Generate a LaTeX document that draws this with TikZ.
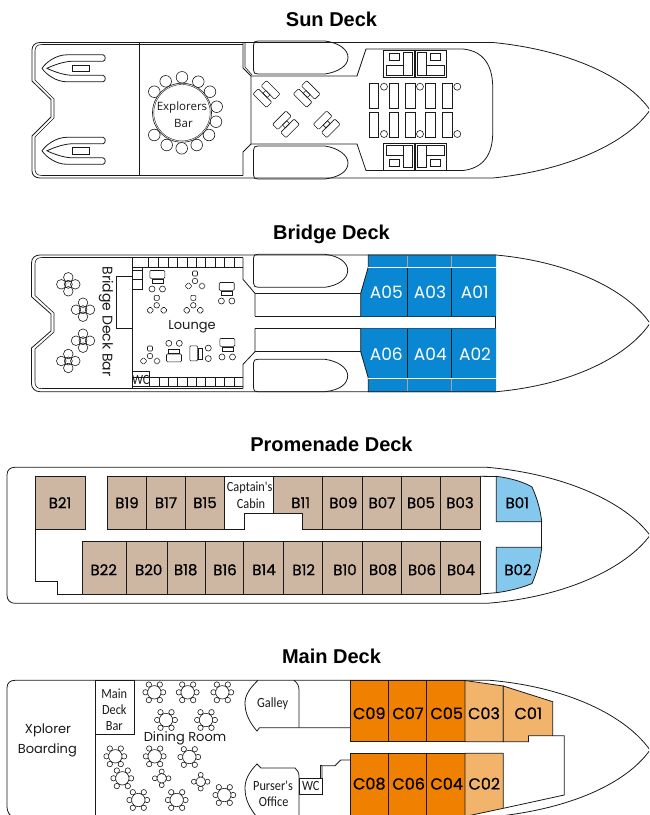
\documentclass[tikz,border=0pt]{standalone}
\usepackage{graphicx}
\usepackage{fontspec}
\setmainfont{Liberation Sans}
\newfontfamily\cabfont[FakeBold=0.7]{Poppins}
\newfontfamily\lblfont{Poppins}
\newfontfamily\narfont{Carlito}
\newcommand{\nar}[1]{\scalebox{0.88}[1]{#1}}
\definecolor{suite}{HTML}{0A87D2}
\definecolor{tan}{HTML}{CDB7A3}
\definecolor{sky}{HTML}{85C8EE}
\definecolor{orng}{HTML}{F08000}
\definecolor{peach}{HTML}{F2B36B}
\definecolor{ink}{HTML}{1A1A1A}
\tikzset{
  title/.style={font=\fontsize{20}{24}\selectfont\bfseries,text=black,inner sep=0pt,anchor=base},
  plan/.style={draw=ink,line width=0.8pt,line join=miter},
  thin plan/.style={draw=ink,line width=0.6pt},
  cabin/.style={draw=ink,line width=0.8pt},
  cablabel/.style={font=\cabfont\fontsize{16}{18}\selectfont,text=black,inner sep=0pt},
  tanlabel/.style={font=\cabfont\fontsize{15}{18}\selectfont,text=black,inner sep=0pt},
  whitelabel/.style={font=\lblfont\fontsize{17}{20}\selectfont,text=white,inner sep=0pt},
  room/.style={font=\lblfont\fontsize{13}{15}\selectfont,text=ink,inner sep=0pt},
  narrow/.style={font=\narfont\fontsize{14}{16}\selectfont,text=ink,inner sep=0pt},
  sunbed/.pic={
    \draw[thin plan,fill=white,rounded corners=1pt] (-9.5,-9.5) rectangle (9.5,-2);
    \draw[thin plan,fill=white,rounded corners=1pt] (-9.5,2) rectangle (9.5,9.5);
    \draw[thin plan] (-3,-2) rectangle (3,2);
  },
  quad/.pic={
    \foreach \px/\py in {7/0,-7/0,0/7,0/-7}{\draw[thin plan] (\px,\py) circle[radius=4.8pt];}
    \draw[thin plan] (0,0) circle[radius=4pt];
  },
  trio/.pic={
    \draw[thin plan] (0,0) circle[radius=2.8pt];
    \draw[thin plan,rounded corners=1pt] (-2.5,-10) rectangle (2.5,-5);
    \draw[thin plan,rounded corners=1pt,rotate around={45:(-6.5,5)}] (-9,2.5) rectangle (-4,7.5);
    \draw[thin plan,rounded corners=1pt,rotate around={45:(7,5)}] (4.5,2.5) rectangle (9.5,7.5);
  },
  sofa/.pic={
    \draw[thin plan,rounded corners=1pt] (-7.5,-9.5) rectangle (7.5,-1.7);
    \draw[thin plan] (-5.5,-0.7) rectangle (5.5,3.3);
    \draw[thin plan] (-5.3,9) circle[radius=3pt];
    \draw[thin plan] (5.2,9) circle[radius=3pt];
  },
  dinebig/.pic={
    \foreach \px/\py in {5.5/-7.8,-5.5/-7.8,5.5/7.8,-5.5/7.8,8.8/0,-8.8/0}{\draw[thin plan,fill=white] (\px,\py) circle[radius=2.7pt];}
    \draw[thin plan,fill=white] (0,0) circle[radius=6.7pt];
  },
  dinesmall/.pic={
    \foreach \px/\py in {6.8/0,-6.8/0,0/6.8,0/-6.8}{\draw[thin plan,fill=white] (\px,\py) circle[radius=2.5pt];}
    \draw[thin plan,fill=white] (0,0) circle[radius=4.8pt];
  },
  tender/.pic={
    \draw[plan] (32,-13.5) -- (-4,-13.5) .. controls (-15,-13.5) and (-25,-6) .. (-29,0)
      .. controls (-25,6) and (-15,13.5) .. (-4,13.5) -- (32,13.5)
      .. controls (35,13) and (35,7.5) .. (32,7) -- (0,7)
      .. controls (-8,6.5) and (-18,3) .. (-24,0) .. controls (-18,-3) and (-8,-6.5) .. (0,-7)
      -- (32,-7) .. controls (35,-7.5) and (35,-13) .. (32,-13.5) -- cycle;
    \draw[thin plan] (1.5,-3.3) rectangle (18,3.3);
  },
}
\begin{document}
\begin{tikzpicture}[x=1pt,y=-1pt]
\useasboundingbox (0,0) rectangle (649,815);
\clip (0,0) rectangle (649,815);

% ---------- titles
\node[title] (tsun) at (331.5,26) {Sun Deck};
\node[title] (tbridge) at (331.5,239) {Bridge Deck};
\node[title] (tprom) at (331.5,451) {Promenade Deck};
\node[title] (tmain) at (331.5,663) {Main Deck};

% ---------- SUN DECK
\draw[plan] (40,42.5) -- (493,42.5) .. controls (570,50) and (628,78) .. (650,110)
  .. controls (628,142) and (570,170) .. (493,178) -- (40,178)
  .. controls (35,178) and (32,175) .. (32,171) -- (32,136) -- (51,117) -- (51,99.5) -- (32,81) -- (32,50)
  .. controls (32,45.5) and (35,42.5) .. (40,42.5) -- cycle;
\draw[thin plan] (42,44.5) -- (243,44.5) (42,175.5) -- (243,175.5);
\draw[thin plan] (42,44.5) .. controls (37,44.5) and (35,47) .. (35,51) -- (35,80) -- (54,99) -- (54,118) -- (35,137) -- (35,169) .. controls (35,173) and (37,175.5) .. (42,175.5);
\draw[plan] (139,43) -- (139,175.5);
\draw[plan] (243,43) -- (243,68) -- (251,76) -- (251,144) -- (243,152) -- (243,175.5);
\draw[thin plan] (245,43) -- (245,67) -- (252,75);
\draw[plan] (253.5,45) .. controls (253.5,42) and (255,41) .. (258,41) -- (325,41) .. controls (340,43) and (348,50) .. (348,57.5) .. controls (348,66) and (338,72) .. (325,74) -- (258,74) .. controls (255,74) and (253.5,73) .. (253.5,70) -- cycle;
\draw[plan] (253.5,150) .. controls (253.5,147) and (255,146) .. (258,146) -- (325,146) .. controls (338,148) and (348,155) .. (348,163) .. controls (348,171) and (340,177) .. (325,179) -- (258,179) .. controls (255,179) and (253.5,178) .. (253.5,175) -- cycle;
\draw[plan] (251,76) -- (357,76) -- (366,49) -- (463,49) .. controls (484,51) and (492,66) .. (492.7,85) -- (492.7,135) .. controls (492,154) and (484,168) .. (463,170.5) -- (366,170.5) -- (357,144) -- (251,144);
\foreach \xa/\ya in {71/68.3,71/150.8}{\pic at (\xa,\ya) {tender};}
% explorers bar
\foreach \cx/\cy in {154.3/91.7,165.7/81.3,182/77.3,198.3/81.7,210/91.7,216.7/106.7,216/121.7,209/135,196.7/145,181.7/148.3,166.7/145,154.3/135}{
  \draw[thin plan,fill=white] (\cx,\cy) circle[radius=5.8pt];}
\draw[thin plan,fill=white] (182,112.7) circle[radius=29.5pt];
\draw[draw=ink,line width=0.4pt] (182,112.7) circle[radius=28.2pt];
\node[font=\fontspec{Open Sans}\fontsize{11.5}{14}\selectfont,text=ink,inner sep=0pt] (explorers) at (182,107.5) {Explorers};
\node[font=\fontspec{Open Sans}\fontsize{11.5}{14}\selectfont,text=ink,inner sep=0pt] (explbar) at (183.5,123.5) {Bar};
\pic[rotate=-45] at (266.5,94) {sunbed};
\pic[rotate=-45] at (306.7,94) {sunbed};
\pic[rotate=45] at (286,124.3) {sunbed};
\pic[rotate=45] at (326.7,124.3) {sunbed};
% bow seating
\foreach \bx in {369.3,389.3,405.7,425.7,442.7}{
  \draw[plan] (\bx,83.3) rectangle ++(9.3,25);
  \draw[plan] (\bx,112.3) rectangle ++(9.3,25);}
\foreach \cx in {384,420,457.3}{
  \draw[thin plan] (\cx,86.7) circle[radius=3.5pt];
  \draw[thin plan] (\cx,134) circle[radius=3.5pt];}
\draw[plan] (383.3,50) rectangle (414.3,77) (415.7,50) rectangle (446.7,77);
\draw[plan] (383.3,143.3) rectangle (414.3,170.5) (415.7,143.3) rectangle (446.7,170.5);
\draw[thin plan] (389.3,53.3) rectangle (399.3,60.7) (403.3,52.7) rectangle (412.7,75) (386,65) rectangle (403.3,75);
\draw[thin plan] (430,53.3) rectangle (440,60.7) (417.7,52.7) rectangle (426,75) (426,65) rectangle (444,75);
\draw[thin plan] (389.3,159.3) rectangle (399.3,166.7) (403.3,145.5) rectangle (412.7,167.5) (386,145.7) rectangle (403.3,155.7);
\draw[thin plan] (430,159.3) rectangle (440,166.7) (417.7,145.5) rectangle (426,167.5) (426,145.7) rectangle (444,155.7);

% ---------- BRIDGE DECK
\draw[plan] (40,255) -- (496,255) .. controls (572,262) and (628,291) .. (650,323.3)
  .. controls (628,356) and (572,385) .. (496,391.7) -- (40,391.7)
  .. controls (35,391.7) and (31.5,388) .. (31.5,384) -- (31.5,348) -- (51,331) -- (51,314) -- (31.5,296.7) -- (31.5,263)
  .. controls (31.5,258) and (35,255) .. (40,255) -- cycle;
\draw[thin plan] (42,257.5) -- (243,257.5) (42,388.7) -- (243,388.7);
\draw[thin plan] (42,257.5) .. controls (37,257.5) and (35,260) .. (35,264) -- (35,295.5) -- (54,313) -- (54,332) -- (35,349) -- (35,382) .. controls (35,386) and (37,388.7) .. (42,388.7);
\draw[plan] (132.7,257.5) -- (132.7,388.7);
\draw[plan] (243,257.5) -- (243,279.3) -- (255,293.3) -- (255,316) (255,328.3) -- (255,351.7) -- (243,364.3) -- (243,388.7);
\draw[plan] (133,267) -- (243,267) (133,377.7) -- (243,377.7) (133,386.7) -- (243,386.7);
\foreach \dx in {148.3,158.3,168.3,177.7,187,196.3,205.7,215,224.3,234}{
  \draw[thin plan] (\dx,257.5) -- (\dx,267);}
\foreach \dx in {149.3,159,168.3,177.7,187,196.3,205.7,215,224.3,234}{
  \draw[thin plan] (\dx,377.7) -- (\dx,386.7);}
\draw[thin plan] (142.7,267) -- (142.7,289.3) -- (133,289.3) (133,270) -- (142.7,270) (133,279.3) -- (142.7,279.3);
\draw[plan] (133,276.7) -- (116.3,276.7) -- (116.3,328.3) -- (133,328.3);
\draw[plan] (132.7,371.7) -- (149.3,371.7) -- (149.3,386.7);
\node[narrow] (wcb) at (140.7,380) {\nar{WC}};
\draw[plan] (253.5,258) .. controls (253.5,255) and (255,254.3) .. (258,254.3) -- (325,254.3) .. controls (340,256) and (347.7,263) .. (347.7,270.5) .. controls (347.7,279) and (338,285.5) .. (325,287.3) -- (258,287.3) .. controls (255,287.3) and (253.5,286) .. (253.5,283) -- cycle;
\draw[plan] (253.5,363) .. controls (253.5,360) and (255,359.3) .. (258,359.3) -- (325,359.3) .. controls (338,361) and (347.7,368) .. (347.7,375.5) .. controls (347.7,384) and (340,390) .. (325,391.7) -- (258,391.7) .. controls (255,391.7) and (253.5,391) .. (253.5,388) -- cycle;
\draw[plan] (255,293.3) -- (360.7,293.3) (255,316.3) -- (495.7,316.3) -- (495.7,328.3) -- (255,328.3) (255,351.7) -- (360.7,351.7);
% suites
\fill[suite] (368.3,255) -- (496,255) -- (496,316.3) -- (360.7,316.3) -- (360.7,293.3) -- (368.3,267) -- cycle;
\fill[suite] (360.7,328.3) -- (496,328.3) -- (496,391.7) -- (368.3,391.7) -- (368.3,378) -- (360.7,351.7) -- cycle;
\draw[plan] (360.7,316.3) -- (360.7,293.3) -- (368.3,267) -- (368.3,255) -- (496,255) (360.7,328.3) -- (360.7,351.7) -- (368.3,378) -- (368.3,391.7) -- (496,391.7);
\draw[white,line width=0.8pt] (368.3,267.3) -- (497,267.3) (368.3,378.3) -- (497,378.3);
\foreach \dx in {407.7,451.7}{
  \draw[gray!70,line width=0.8pt] (\dx,255.5) -- (\dx,267) (\dx,378.6) -- (\dx,391.3);
  \draw[ink,line width=0.8pt] (\dx,267.6) -- (\dx,316) (\dx,328.5) -- (\dx,378);}
\node[whitelabel] (a05) at (386.3,292.7) {A05};
\node[whitelabel] (a03) at (430,292.7) {A03};
\node[whitelabel] (a01) at (474.7,292.7) {A01};
\node[whitelabel] (a06) at (386.3,354.7) {A06};
\node[whitelabel] (a04) at (430.3,354.7) {A04};
\node[whitelabel] (a02) at (475,354.7) {A02};
\node[room,rotate=-90,font=\lblfont\fontsize{14}{16}\selectfont] (bdb) at (106,321.5) {Bridge Deck Bar};
\node[room] (lounge) at (192,326.5) {Lounge};
\foreach \qx/\qy in {68.3/284.3,83/309.7,83/340.7,68.3/361}{\pic at (\qx,\qy) {quad};}
\foreach \qx/\qy in {195/281,156.7/305.3,193.3/305.3,150/356}{\pic at (\qx,\qy) {trio};}
\pic at (157.3,280) {sofa};
\pic at (226.7,292) {sofa};
\pic at (227.3,348) {sofa};
\pic[rotate=180] at (174,352.3) {sofa};
\pic[rotate=90] at (199.3,353.3) {sofa};

% ---------- PROMENADE DECK
\draw[plan] (15,467.3) -- (487,467.3) .. controls (566,474) and (626,503) .. (650,535.3)
  .. controls (626,568) and (566,597) .. (487,603.3) -- (15,603.3)
  .. controls (10,603.3) and (7,600) .. (7,595) -- (7,475) .. controls (7,470) and (10,467.3) .. (15,467.3) -- cycle;
\path[fill=tan,cabin] (35,476.3) rectangle (85.3,529.3);
\foreach \xa/\xb in {107.7/146.3,146.3/185.3,185.3/224.7,322.7/362,362/401,401/440,440/480}{
  \path[fill=tan,cabin] (\xa,476.3) rectangle (\xb,529.3);}
\path[fill=tan,cabin] (273.3,476.3) -- (322.7,476.3) -- (322.7,529.3) -- (302.7,529.3) -- (302.7,513.3) -- (273.3,513.3) -- cycle;
\draw[plan] (224.7,476.3) -- (273.3,476.3) (224.7,529.3) -- (244.7,529.3) -- (244.7,513.3) -- (273.3,513.3);
\foreach \xa/\xb in {82/126.3,126.3/167,167/205.3,205.3/243.7,243.7/283,283/322.7,322.7/362,362/401,401/440,440/480}{
  \path[fill=tan,cabin] (\xa,541) rectangle (\xb,594);}
\draw[plan] (35,529.3) -- (35,581.7) -- (57,581.7) -- (57,594) -- (82,594);
\draw[plan] (480,476.3) -- (496.3,476.5) (480,594) -- (496.3,592.7);
\path[fill=sky,cabin] (496.3,476.3) .. controls (510,478) and (524,482) .. (532,487) .. controls (537,498) and (540.5,510) .. (541.7,521.7) -- (496.3,521.7) -- cycle;
\path[fill=sky,cabin] (496.3,547.3) -- (541.7,547.3) .. controls (540.5,560) and (537,572) .. (532,583.5) .. controls (524,587) and (510,591) .. (496.3,592.7) -- cycle;
\draw[plan] (541.7,521.7) -- (541.7,547.3);
\foreach \nm/\lx in {B21/60,B19/127,B17/166,B15/205,B11/300.7,B09/343.3,B07/382,B05/421,B03/460,B01/517.3}{
  \node[tanlabel] (\nm) at (\lx,502.7) {\nm};}
\foreach \nm/\lx in {B22/103.7,B20/148.7,B18/185.7,B16/225,B14/264,B12/303.7,B10/345,B08/383,B06/422,B04/461,B02/518}{
  \node[tanlabel] (\nm) at (\lx,569.7) {\nm};}
\node[narrow] (capt) at (249.7,487.5) {\nar{Captain's}};
\node[narrow] (cabn) at (251,503.5) {\nar{Cabin}};

% ---------- MAIN DECK
\draw[plan] (15,680.3) -- (490,680.3) .. controls (568,687) and (626,716) .. (650,750)
  .. controls (626,784) and (568,810) .. (490,817) -- (15,817)
  .. controls (10,817) and (7,812) .. (7,807) -- (7,688) .. controls (7,683) and (10,680.3) .. (15,680.3) -- cycle;
\draw[plan] (95.7,680.3) -- (95.7,816);
\draw[plan] (95.7,680.3) rectangle (134.3,734.3);
\draw[plan] (258,680.3) .. controls (250,688) and (245,695) .. (245,703) .. controls (245,714) and (250,723) .. (257,731) -- (259.5,727.7) -- (350,727.7);
\draw[plan] (294,680.3) .. controls (297.5,683) and (299,686) .. (299,690) -- (299,727.7);
\draw[plan] (299,816) -- (299,776) .. controls (299,772) and (297,770) .. (295,768) -- (261,768) -- (257,764) .. controls (250,771) and (245,779) .. (245,788) .. controls (245,800) and (250,808) .. (256,816);
\draw[plan] (299,778.3) rectangle (322,794.7);
\draw[plan] (322,778.3) -- (322,765.7) -- (335,765.7) -- (340.7,760) -- (350,760);
\draw[thin plan] (320.2,778.3) -- (320.2,765.7) -- (322,765.7);
\path[fill=orng,cabin] (350,680.3) rectangle (388.3,741.7);
\path[fill=orng,cabin] (388.3,680.3) rectangle (426.7,741.7);
\path[fill=orng,cabin] (426.7,680.3) rectangle (465,741.7);
\path[fill=peach,cabin] (465,680.5) -- (503.3,686) -- (503.3,741.7) -- (465,741.7) -- cycle;
\path[fill=peach,cabin] (503.3,686) -- (552.7,701.7) -- (552.7,735.7) -- (528.5,735.7) -- (528.5,741.7) -- (503.3,741.7) -- cycle;
\draw[plan] (552.7,735.7) -- (564.3,735.7) -- (564.3,795) -- (503.3,808.3);
\path[fill=orng,cabin] (350,753.3) rectangle (388.3,818);
\path[fill=orng,cabin] (388.3,753.3) rectangle (426.7,818);
\path[fill=orng,cabin] (426.7,753.3) rectangle (465,818);
\path[fill=peach,cabin] (465,753.3) -- (503.3,753.3) -- (503.3,808.3) -- (465,816.5) -- cycle;
\foreach \nm/\lx in {C09/369.3,C07/408,C05/446.7,C03/484,C01/528.3}{
  \node[cablabel] (\nm) at (\lx,713.3) {\nm};}
\foreach \nm/\lx in {C08/369.3,C06/408.7,C04/446.7,C02/484.3}{
  \node[cablabel] (\nm) at (\lx,783.7) {\nm};}
\node[room] (xpl) at (48,730.7) {Xplorer};
\node[room] (brd) at (47.3,750.3) {Boarding};
\node[room] (din) at (185,738.7) {Dining Room};
\node[narrow] (mdb1) at (114.3,693.3) {\nar{Main}};
\node[narrow] (mdb2) at (114.3,709.7) {\nar{Deck}};
\node[narrow] (mdb3) at (114.3,725.7) {\nar{Bar}};
\node[narrow] (galley) at (272.7,703.7) {\nar{Galley}};
\node[narrow] (purs) at (273,785.7) {\nar{Purser's}};
\node[narrow] (offc) at (273.7,801.3) {\nar{Office}};
\node[narrow] (wcm) at (310.7,786) {\nar{WC}};
\foreach \tx/\ty in {154.3/692.3,187.7/692.3,222.3/692.3,166/720,206/720,115.3/756.3,154.7/756.3,189.3/757,122.3/778.3,138.3/800,176.7/800,224.3/795}{
  \pic at (\tx,\ty) {dinebig};}
\pic at (161.7,778.3) {dinesmall};
\pic at (200.7,781.7) {dinesmall};
\end{tikzpicture}
\end{document}
